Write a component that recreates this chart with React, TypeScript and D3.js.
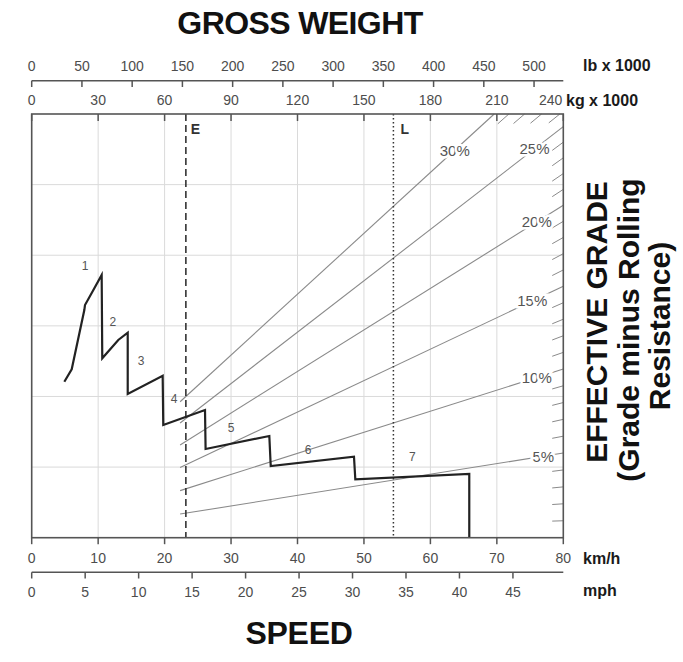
import * as d3 from "d3";

// speed axis (km/h) and gross weight axis (t) share the plot width
const KMH_TICKS = [0, 10, 20, 30, 40, 50, 60, 70, 80];
const MPH_TICKS = [0, 5, 10, 15, 20, 25, 30, 35, 40, 45];
const KG_TICKS = [0, 30, 60, 90, 120, 150, 180, 210, 240];
const LB_TICKS = [0, 50, 100, 150, 200, 250, 300, 350, 400, 450, 500];
const LOAD_GRID = [10, 20, 30, 40, 50];

// effective grade lines (percent) and where their label sits (t)
const MAIN_GRADES = [5, 10, 15, 20, 25, 30];
const GRADE_LABEL_AT = [231, 228, 226, 228, 227, 191];
const STUB_GRADES = d3.range(1, 30).filter((g) => g % 5 !== 0);
const GRADE_START = 67; // t

// empty / loaded gross weight (t)
const EMPTY_W = 69.6;
const LOADED_W = 163.3;

// retarder curve: speed (km/h), load (t of retarding force)
const CURVE_KMH = [4.91, 6.02, 7.92, 8.02, 9.03, 10.53, 10.62, 13.03, 14.45, 14.45, 19.71, 19.8, 26.08, 26.17, 35.76, 35.97, 48.5, 48.7, 65.85, 65.85];
const CURVE_LOAD = [22.09, 23.85, 32.24, 32.95, 34.65, 37.21, 25.4, 28.0, 29.03, 20.35, 22.94, 15.96, 18.08, 12.56, 14.4, 10.15, 11.47, 8.27, 9.02, 0];

// gear labels
const GEARS = ["1", "2", "3", "4", "5", "6", "7"];
const GEAR_KMH = [8.04, 12.23, 16.45, 21.41, 30.0, 41.58, 57.3];
const GEAR_LOAD = [38.5, 30.6, 25.0, 19.6, 15.5, 12.4, 11.5];

const W = 683;
const H = 662;
const L = 31.7;
const R = 563.3;
const T = 114;
const B = 537.7;

const FONT = "'Liberation Sans', Arial, sans-serif";
const NUM = "#4d4d4d";
const AXIS = "#555";

export default function App() {
  const x = d3.scaleLinear().domain([0, 80]).range([L, R]);
  const xKg = d3.scaleLinear().domain([0, 240]).range([L, R]);
  const xLb = d3.scaleLinear().domain([0, 240 / 0.45359237]).range([L, R]);
  const xMph = d3.scaleLinear().domain([0, 80 / 1.609344]).range([L, R]);
  const y = d3.scaleLinear().domain([0, 60]).range([B, T]);

  const slope = (g: number) => Math.sin(Math.atan(g / 100));
  const endW = (g: number) => Math.min(240, 60 / slope(g));

  const seg = (g: number, w0: number, w1: number) =>
    `M${xKg(w0)},${y(w0 * slope(g))}L${xKg(w1)},${y(w1 * slope(g))}`;

  const curve = d3
    .line<number>()
    .x((d) => x(d))
    .y((_, i) => y(CURVE_LOAD[i]));

  return (
    <svg
      width={W}
      height={H}
      style={{ position: "absolute", left: 0, top: 0, background: "#fff" }}
      fontFamily={FONT}
    >
      {/* grid */}
      {KMH_TICKS.slice(1, -1).map((v) => (
        <line key={"gx" + v} x1={x(v)} x2={x(v)} y1={T} y2={B} stroke="#dadada" strokeWidth={1} />
      ))}
      {LOAD_GRID.map((v) => (
        <line key={"gy" + v} x1={L} x2={R} y1={y(v)} y2={y(v)} stroke="#dadada" strokeWidth={1} />
      ))}

      {/* grade stubs at the edges */}
      {STUB_GRADES.map((g) => {
        const e = endW(g);
        return <path key={"s" + g} d={seg(g, e - 5, e)} stroke="#8a8a8a" strokeWidth={1} fill="none" />;
      })}

      {/* main grade lines */}
      {MAIN_GRADES.map((g) => (
        <path key={"g" + g} d={seg(g, GRADE_START, endW(g))} stroke="#8a8a8a" strokeWidth={1.1} fill="none" />
      ))}
      {MAIN_GRADES.map((g, i) => {
        const w = GRADE_LABEL_AT[i];
        return (
          <text
            key={"gl" + g}
            x={xKg(w)}
            y={y(w * slope(g))}
            dy="0.36em"
            textAnchor="middle"
            fontSize={15}
            fill="#555"
            stroke="#fff"
            strokeWidth={5}
            paintOrder="stroke"
          >
            {g}%
          </text>
        );
      })}

      {/* empty / loaded markers */}
      <line x1={xKg(EMPTY_W)} x2={xKg(EMPTY_W)} y1={T} y2={B} stroke="#333" strokeWidth={1.6} strokeDasharray="7,4" />
      <line x1={xKg(LOADED_W)} x2={xKg(LOADED_W)} y1={T} y2={B} stroke="#333" strokeWidth={1.5} strokeDasharray="1.6,2.4" />
      <text x={xKg(EMPTY_W) + 5} y={134} fontSize={14} fontWeight="bold" fill="#333">E</text>
      <text x={xKg(LOADED_W) + 7} y={134} fontSize={14} fontWeight="bold" fill="#333">L</text>

      {/* retarder curve */}
      <path d={curve(CURVE_KMH) || ""} fill="none" stroke="#222" strokeWidth={2.2} strokeLinejoin="miter" />
      {GEARS.map((g, i) => (
        <text key={"n" + g} x={x(GEAR_KMH[i])} y={y(GEAR_LOAD[i])} dy="0.35em" textAnchor="middle" fontSize={12} fill="#555">
          {g}
        </text>
      ))}

      {/* frame */}
      <rect x={L} y={T} width={R - L} height={B - T} fill="none" stroke={AXIS} strokeWidth={1.6} />

      {/* lb axis */}
      <line x1={L} x2={R} y1={80.7} y2={80.7} stroke={AXIS} strokeWidth={1.6} />
      {LB_TICKS.map((v) => (
        <g key={"lb" + v}>
          <line x1={xLb(v)} x2={xLb(v)} y1={80.7} y2={87} stroke={AXIS} strokeWidth={1.5} />
          <text x={xLb(v)} y={70.5} textAnchor="middle" fontSize={14} fill={NUM}>{v}</text>
        </g>
      ))}
      <text x={583} y={71} fontSize={16} fontWeight="bold" fill="#1a1a1a">lb x 1000</text>

      {/* kg axis */}
      {KG_TICKS.map((v, i) => (
        <g key={"kg" + v}>
          <line x1={xKg(v)} x2={xKg(v)} y1={T} y2={T + 7} stroke={AXIS} strokeWidth={1.5} />
          <text
            x={i === KG_TICKS.length - 1 ? xKg(v) - 1 : xKg(v)}
            y={105}
            textAnchor={i === KG_TICKS.length - 1 ? "end" : "middle"}
            fontSize={14}
            fill={NUM}
          >
            {v}
          </text>
        </g>
      ))}
      <text x={566} y={106} fontSize={16} fontWeight="bold" fill="#1a1a1a">kg x 1000</text>

      {/* km/h axis */}
      {KMH_TICKS.map((v) => (
        <g key={"k" + v}>
          <line x1={x(v)} x2={x(v)} y1={B} y2={B + 6.5} stroke={AXIS} strokeWidth={1.5} />
          <text x={x(v)} y={562.5} textAnchor="middle" fontSize={14} fill={NUM}>{v}</text>
        </g>
      ))}
      <text x={583} y={564} fontSize={16} fontWeight="bold" fill="#1a1a1a">km/h</text>

      {/* mph axis */}
      <line x1={L} x2={R} y1={572.3} y2={572.3} stroke={AXIS} strokeWidth={1.6} />
      {MPH_TICKS.map((v) => (
        <g key={"m" + v}>
          <line x1={xMph(v)} x2={xMph(v)} y1={572.3} y2={578.5} stroke={AXIS} strokeWidth={1.5} />
          <text x={xMph(v)} y={596.5} textAnchor="middle" fontSize={14} fill={NUM}>{v}</text>
        </g>
      ))}
      <text x={583} y={596} fontSize={16} fontWeight="bold" fill="#1a1a1a">mph</text>

      {/* titles */}
      <text x={300} y={34} textAnchor="middle" fontSize={32} fontWeight="bold" letterSpacing={-0.6} fill="#111">
        GROSS WEIGHT
      </text>
      <text x={299} y={644} textAnchor="middle" fontSize={32} fontWeight="bold" letterSpacing={-0.3} fill="#111">
        SPEED
      </text>
      <g fontSize={30} fontWeight="bold" fill="#111" textAnchor="middle">
        <text transform="translate(607,322) rotate(-90)">EFFECTIVE GRADE</text>
        <text transform="translate(639,330) rotate(-90)">(Grade minus Rolling</text>
        <text transform="translate(670,326) rotate(-90)">Resistance)</text>
      </g>
    </svg>
  );
}
